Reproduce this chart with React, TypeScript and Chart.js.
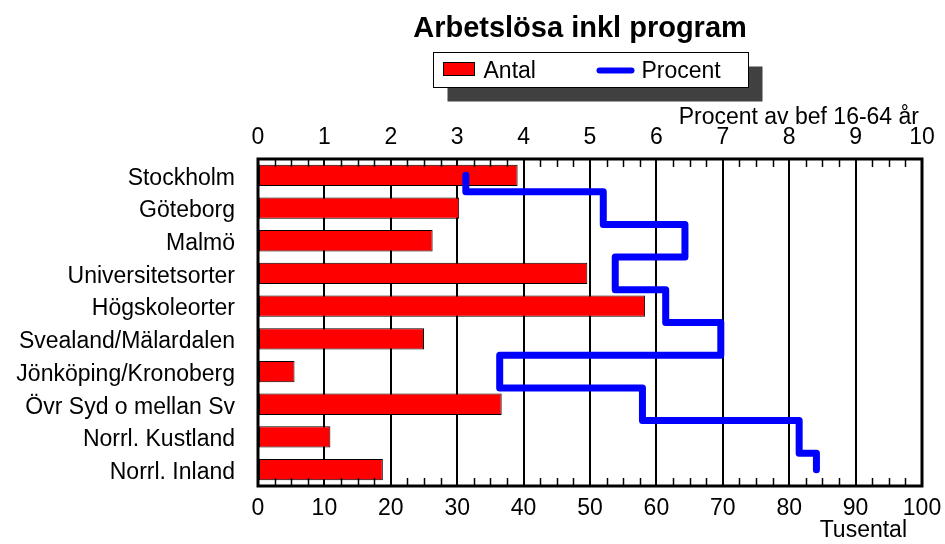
import { useEffect, useRef } from 'react';
import { Chart, registerables } from 'chart.js';

Chart.register(...registerables);

const categories = [
  'Stockholm',
  'Göteborg',
  'Malmö',
  'Universitetsorter',
  'Högskoleorter',
  'Svealand/Mälardalen',
  'Jönköping/Kronoberg',
  'Övr Syd o mellan Sv',
  'Norrl. Kustland',
  'Norrl. Inland',
];

// Antal (tusental), bottom axis
const antal = [39.1, 30.3, 26.3, 49.6, 58.3, 25.0, 5.5, 36.7, 10.9, 18.8];

// Procent av bef 16-64 år, top axis
const procent = [3.13, 5.2, 6.43, 5.38, 6.14, 6.97, 3.64, 5.79, 8.15, 8.41];

const titleText = 'Arbetslösa inkl program';
const topAxisTitle = 'Procent av bef 16-64 år';
const bottomAxisTitle = 'Tusental';
const legendLabels = ['Antal', 'Procent'];

const FONT = "'Liberation Sans', Arial, Helvetica, sans-serif";

// Step path for the Procent series: each region's value spans its own band
function stepPoints(values: number[]) {
  const pts: { x: number; y: number }[] = [];
  values.forEach((v, i) => {
    const top = i === 0 ? i : i - 0.5;
    const bottom = i === values.length - 1 ? i : i + 0.5;
    pts.push({ x: v, y: top }, { x: v, y: bottom });
  });
  return pts;
}

const decorPlugin = {
  id: 'decor',
  afterDatasetsDraw(chart: any) {
    const { ctx, chartArea } = chart;
    const xs = chart.scales.x;
    ctx.save();
    // minor ticks inside top and bottom edges
    ctx.strokeStyle = '#000';
    ctx.lineWidth = 1.5;
    for (let v = 0; v <= 100; v += 2.5) {
      if (v % 10 === 0) continue;
      const px = Math.round(xs.getPixelForValue(v)) + 0.5;
      ctx.beginPath();
      ctx.moveTo(px, chartArea.top);
      ctx.lineTo(px, chartArea.top + 8);
      ctx.moveTo(px, chartArea.bottom);
      ctx.lineTo(px, chartArea.bottom - 8);
      ctx.stroke();
    }
    // plot border
    ctx.lineWidth = 3;
    ctx.strokeRect(
      chartArea.left,
      chartArea.top,
      chartArea.right - chartArea.left,
      chartArea.bottom - chartArea.top
    );
    ctx.restore();
  },
  afterDraw(chart: any) {
    const { ctx, chartArea } = chart;
    const cx = (chartArea.left + chartArea.right) / 2;
    ctx.save();
    ctx.fillStyle = '#000';
    // title
    ctx.font = `bold 29px ${FONT}`;
    ctx.textAlign = 'center';
    ctx.textBaseline = 'middle';
    ctx.fillText(titleText, cx - 10, 29);

    // legend box with shadow
    const bw = 315;
    const bh = 35;
    const bx = Math.round(cx - bw / 2) + 0.5;
    const by = 52.5;
    ctx.fillStyle = '#404040';
    ctx.fillRect(bx + 14, by + 14, bw, bh);
    ctx.fillStyle = '#fff';
    ctx.fillRect(bx, by, bw, bh);
    ctx.strokeStyle = '#000';
    ctx.lineWidth = 1;
    ctx.strokeRect(bx, by, bw, bh);
    // Antal swatch
    ctx.fillStyle = '#FF0000';
    ctx.fillRect(bx + 10, by + 10, 31, 13);
    ctx.strokeRect(bx + 10, by + 10, 31, 13);
    ctx.fillStyle = '#000';
    ctx.font = `23px ${FONT}`;
    ctx.textAlign = 'left';
    ctx.textBaseline = 'middle';
    ctx.fillText(legendLabels[0], bx + 50, by + 19);
    // Procent swatch
    ctx.strokeStyle = '#0000FF';
    ctx.lineWidth = 6;
    ctx.lineCap = 'round';
    ctx.beginPath();
    ctx.moveTo(bx + 166, by + 18);
    ctx.lineTo(bx + 198, by + 18);
    ctx.stroke();
    ctx.fillStyle = '#000';
    ctx.fillText(legendLabels[1], bx + 208, by + 19);

    // axis titles
    ctx.textAlign = 'right';
    ctx.fillText(topAxisTitle, chartArea.right - 3, 118);
    ctx.fillText(bottomAxisTitle, chartArea.right - 15, 531);
    ctx.restore();
  },
};

export default function App() {
  const canvasRef = useRef<HTMLCanvasElement | null>(null);

  useEffect(() => {
    document.body.style.margin = '0';
    const canvas = canvasRef.current;
    if (!canvas) return;
    const tickFont = { family: FONT, size: 23 };
    const chart = new Chart(canvas, {
      type: 'bar',
      data: {
        labels: categories,
        datasets: [
          {
            type: 'line',
            label: legendLabels[1],
            data: stepPoints(procent) as any,
            xAxisID: 'x2',
            yAxisID: 'yl',
            indexAxis: 'y',
            borderColor: '#0000FF',
            borderWidth: 7,
            borderCapStyle: 'round',
            borderJoinStyle: 'round',
            pointRadius: 0,
            fill: false,
            tension: 0,
            order: 0,
          } as any,
          {
            type: 'bar',
            label: legendLabels[0],
            data: antal,
            xAxisID: 'x',
            yAxisID: 'y',
            backgroundColor: '#FF0000',
            borderColor: '#000',
            borderWidth: 1,
            borderSkipped: false,
            grouped: false,
            barPercentage: 0.65,
            categoryPercentage: 1,
            order: 1,
          } as any,
        ],
      },
      options: {
        indexAxis: 'y',
        animation: false,
        responsive: false,
        maintainAspectRatio: false,
        layout: { padding: { top: 100, left: 0, right: 23, bottom: 0 } },
        plugins: {
          legend: { display: false },
          title: { display: false },
          tooltip: { enabled: false },
        },
        scales: {
          x: {
            type: 'linear',
            position: 'bottom',
            min: 0,
            max: 100,
            offset: false,
            ticks: { stepSize: 10, font: tickFont, color: '#000', padding: 9, maxRotation: 0 },
            grid: { color: '#000', lineWidth: 2, drawTicks: false, offset: false },
            border: { display: false },
            afterFit: (s: any) => {
              s.height = 58;
              s.paddingLeft = 0;
              s.paddingRight = 0;
            },
          },
          x2: {
            type: 'linear',
            position: 'top',
            min: 0,
            max: 10,
            offset: false,
            ticks: { stepSize: 1, font: tickFont, color: '#000', padding: 8, maxRotation: 0 },
            grid: { display: false, drawTicks: false },
            border: { display: false },
            afterFit: (s: any) => {
              s.height = 59;
              s.paddingLeft = 0;
              s.paddingRight = 0;
            },
          },
          y: {
            type: 'category',
            position: 'left',
            offset: true,
            ticks: { font: tickFont, color: '#000', padding: 23, labelOffset: 3 },
            grid: { display: false, drawTicks: false },
            border: { display: false },
            afterFit: (s: any) => {
              s.width = 258;
            },
          },
          yl: {
            type: 'linear',
            display: false,
            offset: false,
            min: -0.5,
            max: 9.5,
            reverse: true,
            grid: { offset: false },
          },
        },
      },
      plugins: [decorPlugin],
    });
    return () => chart.destroy();
  }, []);

  return (
    <div style={{ width: 945, height: 544, background: '#fff' }}>
      <canvas ref={canvasRef} width={945} height={544} />
    </div>
  );
}
